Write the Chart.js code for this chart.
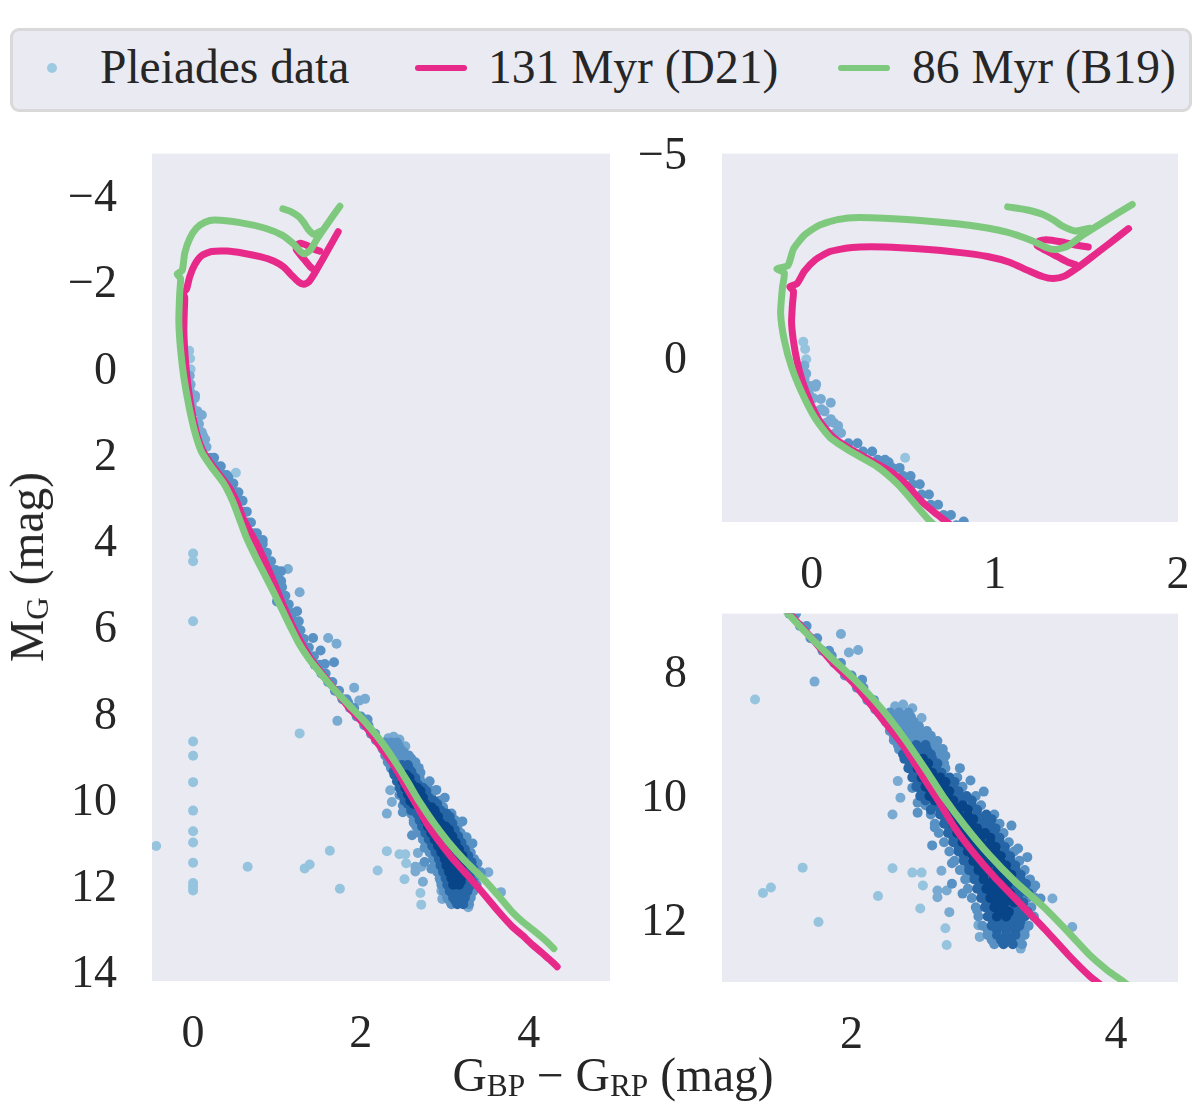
<!DOCTYPE html>
<html><head><meta charset="utf-8">
<script src="https://cdn.jsdelivr.net/npm/chart.js@4.4.1/dist/chart.umd.min.js"></script>
<style>
html,body{margin:0;padding:0;background:#fff;}
body{width:1200px;height:1118px;position:relative;overflow:hidden;font-family:"Liberation Serif","Times New Roman",serif;color:#262626;}
canvas{position:absolute;}
.lg{position:absolute;left:10px;top:28px;width:1176px;height:78px;border:3px solid #d9d9d9;border-radius:9px;background:#eaeaf2;}
.dot{position:absolute;width:10px;height:10px;border-radius:50%;background:#9ecae1;}
.ln{position:absolute;height:6px;border-radius:3px;}
.lt{position:absolute;font-size:47.5px;line-height:48px;white-space:nowrap;}
.ax{position:absolute;font-size:47.5px;line-height:48px;white-space:nowrap;}
.sb{font-size:0.66em;position:relative;top:0.16em;}
</style>
</head><body>
<div class="lg"></div>
<div class="dot" style="left:47px;top:63px"></div>
<span class="lt" style="left:100px;top:43px">Pleiades data</span>
<div class="ln" style="left:415px;top:65px;width:52px;background:#e7298a"></div>
<span class="lt" style="left:488px;top:43px">131 Myr (D21)</span>
<div class="ln" style="left:838px;top:65px;width:52px;background:#7fc97f"></div>
<span class="lt" style="left:912px;top:43px">86 Myr (B19)</span>

<canvas id="cL" width="630" height="969" style="left:0px;top:91px"></canvas>
<canvas id="cT" width="600" height="519" style="left:640px;top:91px"></canvas>
<canvas id="cB" width="600" height="509" style="left:640px;top:551px"></canvas>

<div class="ax" style="left:30px;top:567px;transform:translate(-50%,-50%) rotate(-90deg)">M<span class="sb">G</span> (mag)</div>
<div class="ax" style="left:613px;top:1078px;transform:translate(-50%,-50%)">G<span class="sb">BP</span> &#8722; G<span class="sb">RP</span> (mag)</div>

<script>
// ---- tick labels ----
const leftXTicks = [0, 2, 4];
const leftYTicks = [-4, -2, 0, 2, 4, 6, 8, 10, 12, 14];
const topXTicks = [0, 1, 2];
const topYTicks = [-5, 0];
const botXTicks = [2, 4];
const botYTicks = [8, 10, 12];

// ---- isochrones [BP-RP, M_G] ----
const d21Main = [[4.34,13.80],[4.30,13.72],[4.24,13.62],[4.16,13.48],[4.05,13.30],[3.93,13.08],[3.80,12.86],[3.64,12.52],[3.46,12.10],[3.27,11.68],[3.08,11.26],[2.92,10.86],[2.78,10.46],[2.66,10.04],[2.54,9.64],[2.40,9.16],[2.20,8.62],[2.02,8.14],[1.86,7.80],[1.70,7.40],[1.54,7.02],[1.40,6.66],[1.28,6.26],[1.17,5.84],[1.07,5.40],[0.97,4.92],[0.86,4.42],[0.76,4.00],[0.68,3.72],[0.60,3.42],[0.52,3.02],[0.44,2.72],[0.34,2.46],[0.22,2.16],[0.12,1.86],[0.05,1.50],[0.00,1.08],[-0.05,0.50],[-0.08,0.00],[-0.10,-0.50],[-0.11,-0.95],[-0.105,-1.40],[-0.10,-1.72],[-0.12,-1.82],[-0.08,-1.90],[-0.04,-2.20],[0.02,-2.48],[0.10,-2.68],[0.22,-2.78],[0.40,-2.79],[0.60,-2.74],[0.80,-2.66],[0.96,-2.56],[1.08,-2.42],[1.18,-2.22],[1.26,-2.07],[1.32,-2.02],[1.38,-2.08],[1.45,-2.28],[1.53,-2.55],[1.62,-2.86],[1.73,-3.24]];
const d21Loop = [[1.51,-2.79],[1.44,-2.84],[1.36,-2.92],[1.28,-2.97],[1.24,-2.93],[1.23,-2.83],[1.28,-2.70],[1.34,-2.56],[1.40,-2.42],[1.44,-2.36]];
const b19Main = [[4.30,13.38],[4.24,13.26],[4.16,13.12],[4.06,12.96],[3.93,12.76],[3.80,12.52],[3.66,12.20],[3.46,11.76],[3.24,11.34],[3.04,10.90],[2.86,10.44],[2.70,9.98],[2.56,9.52],[2.40,9.02],[2.22,8.52],[2.02,8.06],[1.84,7.70],[1.66,7.32],[1.52,7.00],[1.38,6.66],[1.26,6.30],[1.16,5.92],[1.06,5.52],[0.96,5.12],[0.85,4.70],[0.74,4.28],[0.64,3.87],[0.56,3.46],[0.47,3.00],[0.36,2.58],[0.22,2.22],[0.10,1.86],[0.02,1.40],[-0.05,0.80],[-0.11,0.14],[-0.15,-0.52],[-0.17,-1.17],[-0.16,-1.80],[-0.15,-2.16],[-0.19,-2.26],[-0.13,-2.34],[-0.10,-2.74],[-0.04,-3.08],[0.04,-3.32],[0.14,-3.46],[0.26,-3.51],[0.56,-3.45],[0.86,-3.32],[1.06,-3.16],[1.20,-2.95],[1.28,-2.78],[1.33,-2.73],[1.40,-2.82],[1.48,-3.08],[1.60,-3.42],[1.75,-3.83]];
const b19Loop = [[1.07,-3.77],[1.17,-3.70],[1.26,-3.59],[1.32,-3.45],[1.37,-3.30],[1.44,-3.18],[1.52,-3.25]];

// ---- Pleiades stars, grouped by local density ----
const starsPale = [[0,4.22],[0,4.40],[0,5.79],[0,8.58],[0,8.91],[0,9.52],[0,10.18],[0,10.66],[0,10.92],[0,11.39],[0,11.86],[0,11.94],[0,12.03],[-0.44,11.0],[0.65,11.48],[1.27,8.39],[1.33,11.52],[1.39,11.43],[1.63,11.11],[1.75,11.99],[2.20,11.57],[2.31,11.12],[0.51,2.35],[-0.046,-0.48],[-0.036,-0.30],[-0.03,-0.05],[2.46,11.19],[2.53,11.19],[2.54,11.40],[2.52,11.77],[2.72,12.36],[2.71,12.09]];
const starsLight = [[-0.04,0.10],[-0.03,0.30],[-0.04,0.44],[0.024,0.56],[-0.01,0.60],[0.02,0.62],[-0.016,0.77],[0.01,0.90],[0.05,0.92],[0.104,1.01],[0.04,1.20],[0.07,1.22],[0.054,1.17],[0.104,1.41],[0.08,1.50],[0.12,1.50],[0.144,1.57],[0.13,1.75],[0.16,1.75],[1.13,4.58],[1.27,5.12],[1.61,6.18],[1.71,6.31],[1.92,7.33],[1.72,8.10],[2.31,10.25],[2.37,9.98],[2.35,9.71],[2.65,11.48],[2.72,11.48],[2.65,11.59],[2.74,11.83],[2.68,11.16],[2.96,12.04],[2.97,12.23],[3.67,12.07],[3.52,11.61],[2.33,8.50],[2.39,8.47],[2.46,8.53],[2.38,8.63],[2.50,8.79],[2.53,8.69],[1.98,7.63],[2.05,7.59],[3.28,12.42]];
const starsMid = [[0.20,2.00],[0.25,2.00],[0.28,2.20],[0.33,2.20],[0.36,2.40],[0.40,2.40],[0.42,2.46],[0.44,2.60],[0.48,2.60],[0.50,2.80],[0.54,2.80],[0.55,3.00],[0.59,3.00],[0.60,3.25],[0.64,3.25],[0.65,3.50],[0.69,3.50],[0.72,3.75],[0.76,3.75],[0.83,3.91],[0.79,4.00],[0.83,4.00],[0.83,4.20],[0.88,4.20],[0.88,4.40],[0.93,4.40],[0.93,4.60],[0.98,4.60],[1.05,4.63],[0.97,4.80],[1.02,4.80],[1.05,4.86],[1.01,5.00],[1.06,5.00],[1.05,5.20],[1.10,5.20],[1.00,5.33],[1.09,5.40],[1.14,5.40],[1.14,5.60],[1.19,5.60],[1.24,5.56],[1.18,5.80],[1.23,5.80],[1.26,5.79],[1.23,6.00],[1.28,6.00],[1.27,6.20],[1.32,6.20],[1.43,6.18],[1.33,6.40],[1.38,6.40],[1.52,6.47],[1.39,6.60],[1.44,6.60],[1.45,6.80],[1.51,6.80],[1.57,6.78],[1.68,6.74],[1.53,7.00],[1.58,7.00],[1.61,7.20],[1.66,7.20],[1.69,7.40],[1.74,7.40],[1.78,7.60],[1.83,7.60],[1.85,7.68],[1.87,7.80],[1.92,7.80],[1.95,8.00],[2.00,8.00],[2.08,8.07],[2.04,8.20],[2.09,8.20],[2.12,8.40],[2.17,8.40],[2.18,8.55],
[2.22,8.60],[2.29,8.60],[2.36,8.60],[2.43,8.60],[2.25,8.675],[2.32,8.675],[2.39,8.675],[2.45,8.675],[2.26,8.75],[2.33,8.75],[2.40,8.75],[2.47,8.75],[2.30,8.825],[2.37,8.825],[2.44,8.825],[2.51,8.825],[2.29,8.90],[2.36,8.90],[2.43,8.90],[2.50,8.90],[2.57,8.90],[2.32,8.975],[2.39,8.975],[2.46,8.975],[2.53,8.975],[2.60,8.975],[2.32,9.05],[2.39,9.05],[2.46,9.05],[2.53,9.05],[2.35,9.125],[2.63,9.125],[2.36,9.20],[2.64,9.20],[2.67,9.275],
[2.57,9.01],[2.60,9.06],[2.65,9.06],[2.69,9.19],[2.71,9.30],[2.70,9.42],[2.68,9.35],[2.71,9.50],[2.80,9.65],[2.84,9.80],[2.94,9.95],[2.56,10.10],[2.98,10.10],[2.60,10.25],[3.08,10.25],[2.63,10.40],[3.12,10.40],[2.66,10.55],[3.15,10.55],[2.70,10.70],[3.19,10.70],[2.74,10.85],[3.23,10.85],[2.78,11.00],[3.27,11.00],[2.82,11.15],[3.31,11.15],[2.86,11.30],[3.35,11.30],[2.88,11.45],[3.37,11.45],[2.91,11.60],[3.33,11.60],[3.39,11.60],[2.94,11.75],[3.36,11.75],[2.96,11.90],[3.38,11.90],[2.99,12.05],[3.34,12.05],[3.03,12.20],[3.31,12.20],[3.08,12.35],[3.29,12.35],[3.03,12.125],[3.31,12.125],[3.06,12.275],[3.27,12.275],
[3.21,10.43],[3.26,10.80],[3.33,10.94],[3.39,11.40],[3.43,11.61],[2.61,10.75],[2.63,10.46],[2.76,11.04],[2.86,11.16],[2.88,11.28],[2.84,11.53],[2.95,11.80],[2.76,11.37],[2.50,10.06],[2.50,10.22],[2.46,9.82],[2.82,9.50],[2.90,9.70],[3.00,9.88]];
const starsDark = [[2.42,9.125],[2.49,9.125],[2.56,9.125],[2.43,9.20],[2.50,9.20],[2.57,9.20],[2.39,9.275],[2.46,9.275],[2.53,9.275],[2.60,9.275],[2.40,9.35],[2.61,9.35],[2.44,9.425],[2.65,9.425],[2.43,9.50],[2.64,9.50],[2.47,9.575],[2.68,9.575],[2.46,9.65],[2.74,9.65],[2.50,9.725],[2.78,9.725],[2.49,9.80],[2.77,9.80],[2.53,9.875],[2.81,9.875],[2.52,9.95],[2.80,9.95],[2.87,9.95],[2.56,10.025],[2.84,10.025],[2.91,10.025],[2.63,10.10],[2.91,10.10],[2.60,10.175],[2.67,10.175],[2.95,10.175],[2.67,10.25],[2.95,10.25],[3.02,10.25],[2.71,10.325],[2.99,10.325],[3.06,10.325],[2.70,10.40],[2.98,10.40],[3.05,10.40],[2.74,10.475],[3.02,10.475],[3.09,10.475],[2.73,10.55],[3.08,10.55],[2.77,10.625],[3.12,10.625],[2.77,10.70],[3.12,10.70],[2.81,10.775],[3.16,10.775],[2.81,10.85],[3.16,10.85],[2.85,10.925],[3.20,10.925],[2.85,11.00],[3.20,11.00],[2.89,11.075],[3.24,11.075],[2.89,11.15],[3.24,11.15],[2.93,11.225],[3.28,11.225],[2.93,11.30],[3.21,11.30],[3.28,11.30],[2.97,11.375],[3.25,11.375],[3.32,11.375],[2.95,11.45],[3.23,11.45],[3.30,11.45],[2.99,11.525],[3.27,11.525],[3.34,11.525],[2.98,11.60],[3.26,11.60],[3.02,11.675],[3.30,11.675],[3.01,11.75],[3.22,11.75],[3.29,11.75],[3.05,11.825],[3.26,11.825],[3.33,11.825],[3.03,11.90],[3.24,11.90],[3.31,11.90],[3.07,11.975],[3.14,11.975],[3.21,11.975],[3.28,11.975],[3.06,12.05],[3.13,12.05],[3.20,12.05],[3.27,12.05],[3.10,12.125],[3.17,12.125],[3.24,12.125],[3.10,12.20],[3.17,12.20],[3.24,12.20],[3.13,12.275],[3.20,12.275],[3.15,12.35],[3.22,12.35]];
const starsCore = [[2.47,9.35],[2.54,9.35],[2.51,9.425],[2.58,9.425],[2.50,9.50],[2.57,9.50],[2.54,9.575],[2.61,9.575],[2.53,9.65],[2.60,9.65],[2.67,9.65],[2.57,9.725],[2.64,9.725],[2.71,9.725],[2.56,9.80],[2.63,9.80],[2.70,9.80],[2.60,9.875],[2.67,9.875],[2.74,9.875],[2.59,9.95],[2.66,9.95],[2.73,9.95],[2.63,10.025],[2.70,10.025],[2.77,10.025],[2.70,10.10],[2.77,10.10],[2.84,10.10],[2.74,10.175],[2.81,10.175],[2.88,10.175],[2.74,10.25],[2.81,10.25],[2.88,10.25],[2.78,10.325],[2.85,10.325],[2.92,10.325],[2.77,10.40],[2.84,10.40],[2.91,10.40],[2.81,10.475],[2.88,10.475],[2.95,10.475],[2.80,10.55],[2.87,10.55],[2.94,10.55],[3.01,10.55],[2.84,10.625],[2.91,10.625],[2.98,10.625],[3.05,10.625],[2.84,10.70],[2.91,10.70],[2.98,10.70],[3.05,10.70],[2.88,10.775],[2.95,10.775],[3.02,10.775],[3.09,10.775],[2.88,10.85],[2.95,10.85],[3.02,10.85],[3.09,10.85],[2.92,10.925],[2.99,10.925],[3.06,10.925],[3.13,10.925],[2.92,11.00],[2.99,11.00],[3.06,11.00],[3.13,11.00],[2.96,11.075],[3.03,11.075],[3.10,11.075],[3.17,11.075],[2.96,11.15],[3.03,11.15],[3.10,11.15],[3.17,11.15],[3.00,11.225],[3.07,11.225],[3.14,11.225],[3.21,11.225],[3.00,11.30],[3.07,11.30],[3.14,11.30],[3.04,11.375],[3.11,11.375],[3.18,11.375],[3.02,11.45],[3.09,11.45],[3.16,11.45],[3.06,11.525],[3.13,11.525],[3.20,11.525],[3.05,11.60],[3.12,11.60],[3.19,11.60],[3.09,11.675],[3.16,11.675],[3.23,11.675],[3.08,11.75],[3.15,11.75],[3.12,11.825],[3.19,11.825],[3.10,11.90],[3.17,11.90]];

const FONT = '"Liberation Serif","Times New Roman",serif';
const PINK = '#e7298a', GREEN = '#7fc97f';
const xy = a => a.map(p => ({x: p[0], y: p[1]}));
function makeDatasets() {
  const L = (d, c) => ({data: xy(d), showLine: true, borderColor: c, backgroundColor: c, borderWidth: 7,
    pointRadius: 0, pointHoverRadius: 0, tension: 0.2, borderCapStyle: 'round', borderJoinStyle: 'round', clip: 0});
  const S = (d, c) => ({data: xy(d), showLine: false, backgroundColor: c, borderWidth: 0,
    pointRadius: 5, pointHoverRadius: 5, clip: 0});
  return [L(b19Main, GREEN), L(b19Loop, GREEN), L(d21Main, PINK), L(d21Loop, PINK),
    S(starsCore, 'rgb(8,68,136)'), S(starsDark, 'rgb(38,102,166)'), S(starsMid, 'rgb(88,145,196)'),
    S(starsLight, 'rgb(120,170,210)'), S(starsPale, 'rgb(150,196,222)')];
}
const bg = {id: 'bg', beforeDraw(chart) {
  const a = chart.chartArea, c = chart.ctx;
  c.save(); c.fillStyle = '#eaeaf2'; c.fillRect(a.left, a.top, a.right - a.left, a.bottom - a.top); c.restore();
}};
const fmt = v => String(v).replace('-', '\u2212');
function panel(id, xr, yr, xT, yT, yW, xH, pad) {
  new Chart(document.getElementById(id), {
    type: 'scatter',
    data: {datasets: makeDatasets()},
    options: {
      responsive: false, animation: false, devicePixelRatio: 1, events: [],
      layout: {padding: pad},
      plugins: {legend: {display: false}, tooltip: {enabled: false}},
      scales: {
        x: {type: 'linear', min: xr[0], max: xr[1],
          grid: {display: false, drawTicks: false}, border: {display: false},
          afterBuildTicks: s => { s.ticks = xT.map(v => ({value: v})); },
          afterFit: s => { s.height = xH; },
          ticks: {callback: fmt, font: {family: FONT, size: 46}, color: '#262626', padding: 26, maxRotation: 0, autoSkip: false}},
        y: {type: 'linear', reverse: true, min: yr[0], max: yr[1],
          grid: {display: false, drawTicks: false}, border: {display: false},
          afterBuildTicks: s => { s.ticks = yT.map(v => ({value: v})); },
          afterFit: s => { s.width = yW; },
          ticks: {callback: fmt, font: {family: FONT, size: 46}, color: '#262626', padding: 35, autoSkip: false}}
      }
    },
    plugins: [bg]
  });
}
panel('cL', [-0.49, 4.97], [-5.05, 14.13], leftXTicks, leftYTicks, 152, 79, {top: 0, right: 20, left: 0, bottom: 0});
panel('cT', [-0.49, 2.0], [-5.07, 3.92], topXTicks, topYTicks, 82, 88, {top: 0, right: 62, left: 0, bottom: 0});
panel('cB', [1.02, 4.47], [7.0, 12.96], botXTicks, botYTicks, 82, 78, {top: 0, right: 62, left: 0, bottom: 0});
</script>
</body></html>
